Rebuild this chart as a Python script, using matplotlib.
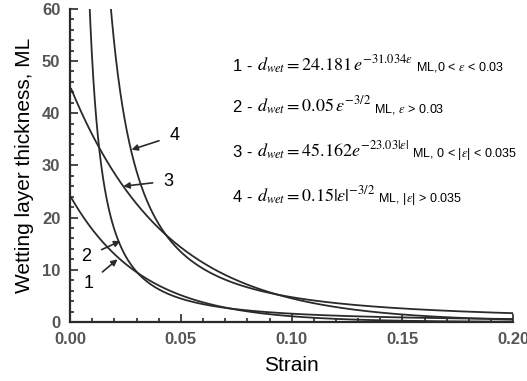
import numpy as np
import matplotlib
matplotlib.use("Agg")
import matplotlib.pyplot as plt
from matplotlib.offsetbox import TextArea, HPacker, AnnotationBbox
from matplotlib.ticker import MultipleLocator

plt.rcParams['font.family'] = ['Liberation Sans', 'DejaVu Sans']
plt.rcParams['mathtext.fontset'] = 'stix'

# coefficients from the chart's own equations
exp_amp = [24.181, 45.162]      # curves 1, 3
exp_rate = [31.034, 23.03]
pow_amp = [0.05, 0.15]          # curves 2, 4
pow_exp = [-1.5, -1.5]

curve_ids = ["1", "2", "3", "4"]
label_xy = [(0.0082, 7.3), (0.0073, 12.5), (0.0445, 27.0), (0.0472, 35.7)]
arrow_tip = [(0.0214, 12.0), (0.0227, 15.5), (0.0240, 26.0), (0.0277, 33.0)]

eq_main = [r"$d_{wet} = 24.181\,e^{-31.034\varepsilon}$",
           r"$d_{wet} = 0.05\,\varepsilon^{-3/2}$",
           r"$d_{wet} = 45.162e^{-23.03|\varepsilon|}$",
           r"$d_{wet} = 0.15|\varepsilon|^{-3/2}$"]
eq_cond = [r"ML,0 < $\varepsilon$ < 0.03",
           r"ML, $\varepsilon$ > 0.03",
           r"ML, 0 < |$\varepsilon$| < 0.035",
           r"ML, |$\varepsilon$| > 0.035"]

eps = np.linspace(0.0005, 0.2, 2000)
curves = [exp_amp[0] * np.exp(-exp_rate[0] * eps),
          pow_amp[0] * eps ** pow_exp[0],
          exp_amp[1] * np.exp(-exp_rate[1] * eps),
          pow_amp[1] * eps ** pow_exp[1]]

fig = plt.figure(figsize=(5.27, 3.81), dpi=100)
ax = fig.add_axes([0.133, 0.155, 0.841, 0.822])
col = "#2a2a2a"
for y in curves:
    ax.plot(eps, y, color=col, lw=1.3)

ax.set_xlim(0, 0.2)
ax.set_ylim(0, 60)
ax.xaxis.set_major_locator(MultipleLocator(0.05))
ax.xaxis.set_minor_locator(MultipleLocator(0.01))
ax.yaxis.set_major_locator(MultipleLocator(10))
ax.yaxis.set_minor_locator(MultipleLocator(2))
ax.xaxis.set_major_formatter(lambda v, p: f"{v:.2f}")
ax.tick_params(which="both", direction="in", color=col, width=1.2)
ax.tick_params(which="major", length=6, labelsize=12, labelcolor="#555555", pad=7)
ax.tick_params(which="minor", length=3)
for lab in ax.get_xticklabels() + ax.get_yticklabels():
    lab.set_fontweight("bold")
for s in ["top", "right"]:
    ax.spines[s].set_visible(False)
for s in ["left", "bottom"]:
    ax.spines[s].set_color(col)
    ax.spines[s].set_linewidth(1.6)

ax.set_xlabel("Strain", fontsize=15, labelpad=7)
ax.set_ylabel("Wetting layer thickness, ML", fontsize=15, labelpad=6)

for cid, xy, tip in zip(curve_ids, label_xy, arrow_tip):
    ax.annotate(cid, xy=tip, xytext=xy, fontsize=13, ha="center", va="center",
                arrowprops=dict(arrowstyle="-|>", color=col, lw=1.2,
                                shrinkA=6, shrinkB=0, mutation_scale=9))

eq_y = [0.830, 0.722, 0.605, 0.487]
for i in range(4):
    parts = [TextArea(f"{curve_ids[i]} - ", textprops=dict(fontsize=12)),
             TextArea(eq_main[i], textprops=dict(fontsize=13)),
             TextArea(" " + eq_cond[i], textprops=dict(fontsize=9))]
    box = HPacker(children=parts, align="baseline", pad=0, sep=0)
    ab = AnnotationBbox(box, (0.442, eq_y[i]), xycoords=fig.transFigure,
                        box_alignment=(0, 0.5), frameon=False)
    fig.add_artist(ab)

fig.savefig("out.png", dpi=100)
